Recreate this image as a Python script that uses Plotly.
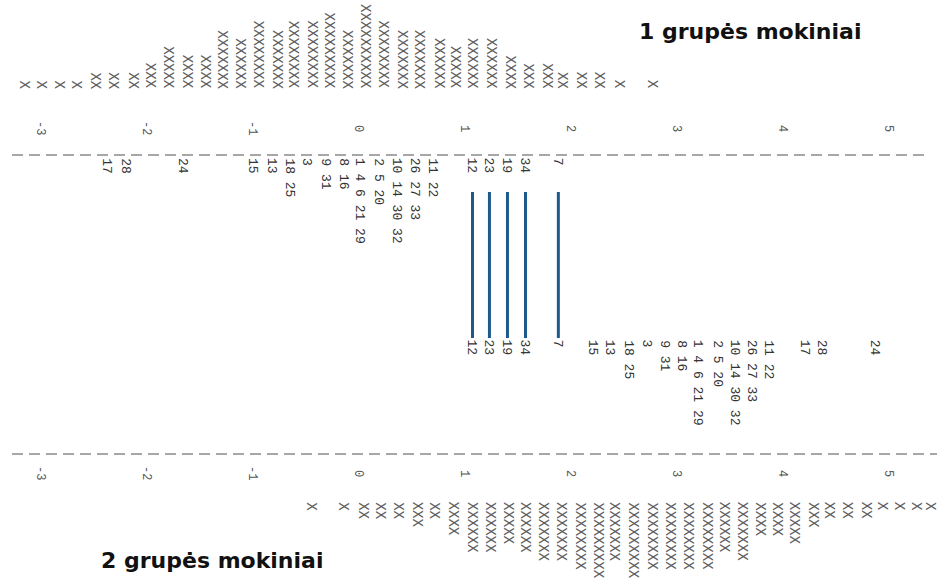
import plotly.graph_objects as go

# ---------------- data (logit scale) ----------------
ticks = [-3, -2, -1, 0, 1, 2, 3, 4, 5]
tick_labels = ["-3", "-2", "-1", "0", "1", "2", "3", "4", "5"]

# group 1 students: column position (logit) and number of students (X)
g1_x = [-3.15, -2.99, -2.82, -2.66, -2.48, -2.31, -2.12, -1.96, -1.79, -1.61, -1.44,
        -1.28, -1.11, -0.94, -0.76, -0.61, -0.43, -0.27, -0.10, 0.07, 0.24, 0.42, 0.58,
        0.77, 0.92, 1.08, 1.26, 1.43, 1.60, 1.78, 1.93, 2.11, 2.28, 2.47, 2.78]
g1_n = [1, 1, 1, 1, 2, 2, 2, 3, 5, 4, 4,
        7, 6, 8, 7, 8, 8, 9, 7, 10, 8, 7, 7,
        6, 5, 6, 6, 4, 3, 3, 2, 2, 2, 1, 1]

# group 2 students
g2_x = [-0.44, -0.14, 0.05, 0.21, 0.38, 0.56, 0.72, 0.90, 1.08, 1.25, 1.42, 1.58,
        1.75, 1.92, 2.09, 2.26, 2.42, 2.59, 2.77, 2.94, 3.11, 3.29, 3.46, 3.63,
        3.79, 3.95, 4.12, 4.29, 4.45, 4.62, 4.80, 4.95, 5.11, 5.27, 5.40]
g2_n = [1, 1, 2, 2, 2, 3, 2, 4, 6, 6, 5, 6,
        7, 7, 8, 9, 7, 9, 8, 8, 8, 8, 6, 7,
        4, 4, 5, 3, 2, 2, 2, 1, 1, 1, 1]

# items, group 1 scale
items1_x = [-2.37, -2.19, -1.65, -0.99, -0.81, -0.65, -0.48, -0.31, -0.14, 0.02,
            0.19, 0.37, 0.54, 0.70, 1.08, 1.24, 1.41, 1.58, 1.89]
items1_lbl = ["17", "28", "24", "15", "13", "18 25", "3", "9 31", "8 16", "1 4 6 21 29",
              "2 5 20", "10 14 30 32", "26 27 33", "11 22", "12", "23", "19", "34", "7"]

# items, group 2 scale
items2_x = [1.08, 1.24, 1.41, 1.58, 1.89, 2.22, 2.38, 2.55, 2.73, 2.89, 3.05,
            3.21, 3.39, 3.56, 3.72, 3.87, 4.22, 4.38, 4.88]
items2_lbl = ["12", "23", "19", "34", "7", "15", "13", "18 25", "3", "9 31", "8 16",
              "1 4 6 21 29", "2 5 20", "10 14 30 32", "26 27 33", "11 22", "17", "28", "24"]

# anchor (common) items linked between the two maps
anchor_x = [1.08, 1.24, 1.41, 1.58, 1.89]

title1 = "1 grupės mokiniai"
title2 = "2 grupės mokiniai"

# ---------------- layout rows (pixel rows on a 0..580 axis) ----------------
Y_G1_BASE = 89
Y_TICK1 = 128
Y_DASH1 = 155
Y_ITEM1 = 158
Y_LINK_TOP = 192
Y_LINK_BOT = 338
Y_ITEM2 = 340
Y_DASH2 = 454
Y_TICK2 = 473
Y_G2_TOP = 502

X0_PX, UNIT_PX, W, H = 358, 106, 937, 580
xr = [(0 - X0_PX) / UNIT_PX, (W - X0_PX) / UNIT_PX]

fig = go.Figure()

# dashed separator lines
for yv, xe in ((Y_DASH1, 925), (Y_DASH2, W)):
    fig.add_trace(go.Scatter(x=[(12 - X0_PX) / UNIT_PX, (xe - X0_PX) / UNIT_PX], y=[yv, yv],
                             mode="lines",
                             line=dict(color="#8a8a8a", width=1.5, dash="11px,6px"),
                             hoverinfo="skip", showlegend=False))

# anchor links
for ax in anchor_x:
    fig.add_trace(go.Scatter(x=[ax, ax], y=[Y_LINK_TOP, Y_LINK_BOT], mode="lines",
                             line=dict(color="#1d5a8c", width=3),
                             hoverinfo="skip", showlegend=False))

ann = []
mono_x = dict(family="Liberation Mono, DejaVu Sans Mono, monospace", size=14, color="#5e5e5e")
mono_i = dict(family="Liberation Mono, DejaVu Sans Mono, monospace", size=13, color="#333333")
tick_f = dict(family="Liberation Mono, DejaVu Sans Mono, monospace", size=12, color="#555555")

for xv, n in zip(g1_x, g1_n):
    ann.append(dict(x=xv, y=Y_G1_BASE, text="X" * n, textangle=90, xanchor="center",
                    yanchor="bottom", showarrow=False, font=mono_x, borderpad=0, borderwidth=0))
for xv, n in zip(g2_x, g2_n):
    ann.append(dict(x=xv, y=Y_G2_TOP, text="X" * n, textangle=90, xanchor="center",
                    yanchor="top", showarrow=False, font=mono_x, borderpad=0, borderwidth=0))
for xv, t in zip(items1_x, items1_lbl):
    ann.append(dict(x=xv, y=Y_ITEM1, text=t, textangle=90, xanchor="center",
                    yanchor="top", showarrow=False, font=mono_i, borderpad=0, borderwidth=0))
for xv, t in zip(items2_x, items2_lbl):
    ann.append(dict(x=xv, y=Y_ITEM2, text=t, textangle=90, xanchor="center",
                    yanchor="top", showarrow=False, font=mono_i, borderpad=0, borderwidth=0))
for tv, tl in zip(ticks, tick_labels):
    for yv in (Y_TICK1, Y_TICK2):
        ann.append(dict(x=tv, y=yv, text=tl, textangle=90, xanchor="center",
                        yanchor="middle", showarrow=False, font=tick_f))

ann.append(dict(x=(750 - X0_PX) / UNIT_PX, y=31, text="<b>" + title1 + "</b>",
                showarrow=False, xanchor="center", yanchor="middle",
                font=dict(family="DejaVu Sans, Verdana, sans-serif", size=22, color="#111111")))
ann.append(dict(x=(212 - X0_PX) / UNIT_PX, y=560, text="<b>" + title2 + "</b>",
                showarrow=False, xanchor="center", yanchor="middle",
                font=dict(family="DejaVu Sans, Verdana, sans-serif", size=22, color="#111111")))

fig.update_layout(
    width=W, height=H,
    margin=dict(l=0, r=0, t=0, b=0),
    paper_bgcolor="white", plot_bgcolor="white",
    xaxis=dict(range=xr, visible=False, fixedrange=True),
    yaxis=dict(range=[H, 0], visible=False, fixedrange=True),
    annotations=ann,
    showlegend=False,
)

fig.write_html("out.html")
